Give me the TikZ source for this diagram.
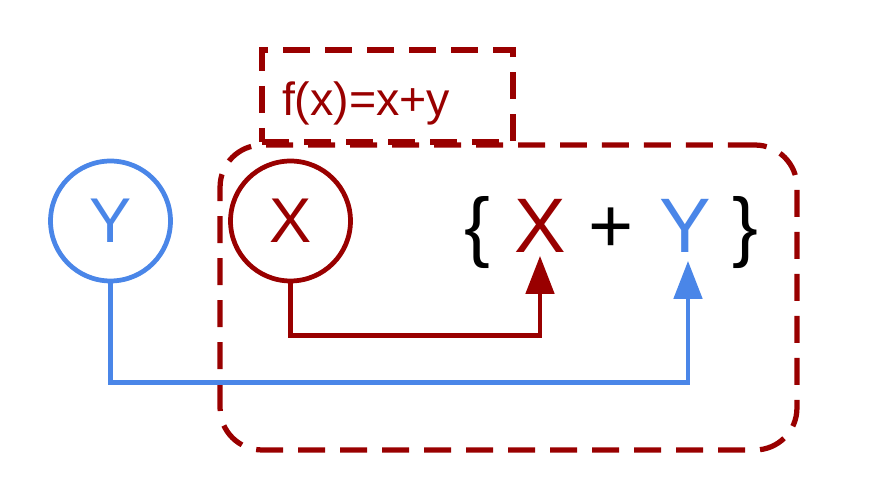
\documentclass[tikz,border=0pt]{standalone}
\usepackage{fontspec}
\setmainfont{Liberation Sans}
\usepackage{xcolor}
\usetikzlibrary{arrows.meta, positioning}
\definecolor{darkred}{HTML}{990000}
\definecolor{cornflower}{HTML}{4A86E8}

\begin{document}
\begin{tikzpicture}[
    x=0.02cm, y=-0.02cm,
    var/.style={circle, draw=#1, text=#1, line width=0.095cm, minimum size=2.4cm, inner sep=0pt, font=\fontsize{36}{40}\selectfont},
    term/.style={anchor=base, inner sep=0.05cm, text=#1, font=\fontsize{44}{48}\selectfont},
    dashbox/.style={draw=darkred, line width=0.105cm, dash pattern=on 0.54cm off 0.3cm},
    arrow/.style={draw=#1, line width=0.095cm, -{Triangle[length=0.76cm, width=0.56cm]}}
]
\useasboundingbox (0,0) rectangle (884,492);
% function scope and its rule
\node[dashbox, rounded corners=0.84cm, minimum width=11.54cm, minimum height=6.1cm] (body) at (508.5,297.5) {};
\node[dashbox, text=darkred, minimum width=5.02cm, minimum height=1.84cm, inner xsep=0.4cm, text width=4.22cm, align=left, text height=0.92cm, text depth=0.14cm, font=\fontsize{26.5}{30}\selectfont] (head) at (387.5,96) {f(x)=x+y};
% inputs
\node[var=cornflower] (yin) at (110.5,221) {Y};
\node[var=darkred] (xin) at (290.5,221) {X};
% sum
\node[term=black] (open) at (477,253) {\{};
\node[term=darkred] (xsum) at (540,253) {X};
\node[term=black] (plus) at (611,253) {+};
\node[term=cornflower] (ysum) at (685,253) {Y};
\node[term=black] (close) at (745,253) {\}};
\draw[arrow=darkred] (xin.south) -- ++(0,52) -| (xsum.south);
\draw[arrow=cornflower, shorten >=0.1cm] (yin.south) -- ++(0,99) -| ([xshift=0.06cm]ysum.south);
\end{tikzpicture}
\end{document}
